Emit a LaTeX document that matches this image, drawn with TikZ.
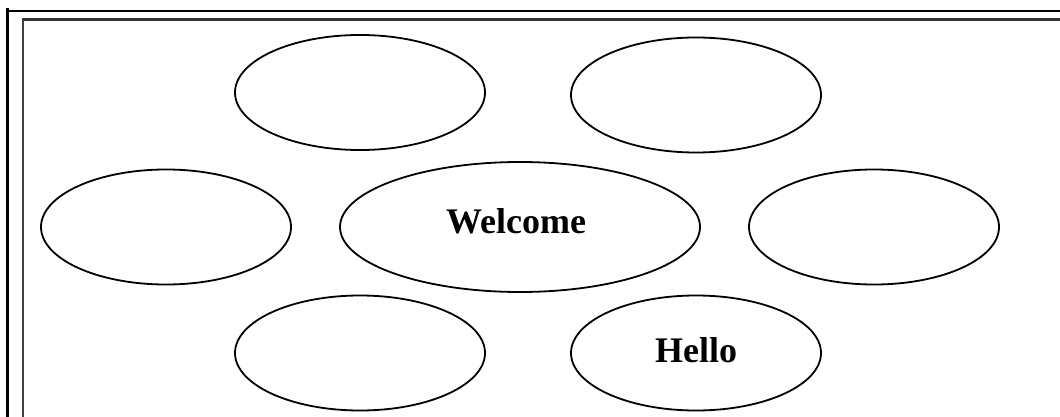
\documentclass[tikz,border=0pt]{standalone}
\usepackage{fontspec}
\setmainfont{Liberation Serif}
\usetikzlibrary{shapes.geometric}
\begin{document}
\begin{tikzpicture}[x=1pt,y=-1pt,
  bubble/.style={draw=black,line width=1.8pt,ellipse,inner sep=0pt,minimum width=250pt,minimum height=115pt},
  bigbubble/.style={bubble,minimum width=360pt,minimum height=130pt},
  lbl/.style={font=\bfseries\fontsize{36}{40}\selectfont,anchor=base,inner sep=0pt},
  frame/.style={line width=3pt,black}]
\useasboundingbox (0,0) rectangle (1060,417);
\fill[white] (0,0) rectangle (1060,417);
% frame
\coordinate (o1) at (7.5,8);
\coordinate (o2) at (7.5,417);
\coordinate (o3) at (1060,11);
\coordinate (o4) at (6,11);
\coordinate (i1) at (22,19.5);
\coordinate (i2) at (1060,19.5);
\coordinate (i3) at (23,19);
\coordinate (i4) at (23,417);
\draw[frame] (o1) -- (o2);
\draw[black,line width=2pt] (o4) -- (o3);
\draw[black!80,line width=2.5pt] (i1) -- (i2);
\draw[black!75,line width=2.5pt] (i3) -- (i4);
% bubbles
\node[bubble] (tl) at (360,92.5) {};
\node[bubble] (tr) at (696,95) {};
\node[bubble] (ml) at (166,227) {};
\node[bigbubble] (c) at (520,227) {};
\node[bubble] (mr) at (874,227) {};
\node[bubble] (bl) at (360,353) {};
\node[bubble] (br) at (696,353) {};
\node[lbl] (welcome) at (516,233) {Welcome};
\node[lbl] (hello) at (696,362) {Hello};
\end{tikzpicture}
\end{document}
